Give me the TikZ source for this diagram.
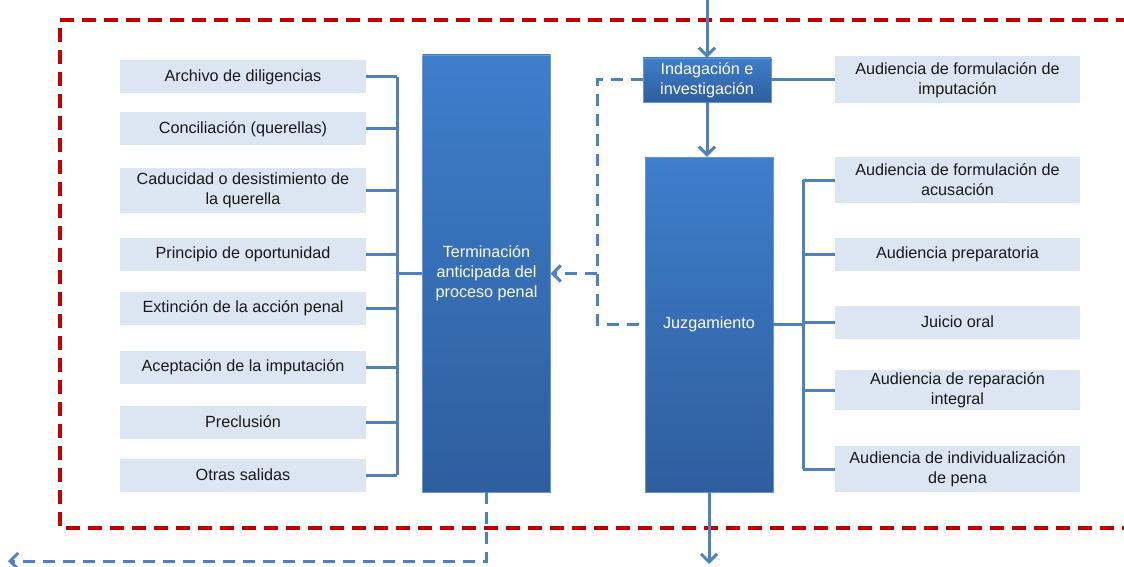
\documentclass[tikz,border=0pt]{standalone}
\usepackage{fontspec}
\setmainfont{Liberation Sans}
\usepackage{tikz}
\usetikzlibrary{positioning, arrows.meta, calc}
\definecolor{boxtop}{RGB}{62,126,203}
\definecolor{boxbot}{RGB}{46,94,158}
\definecolor{lightfill}{RGB}{220,230,242}
\definecolor{linkblue}{RGB}{79,129,189}
\definecolor{framered}{RGB}{192,0,0}
\tikzset{%
  optbox/.style={fill=lightfill, minimum height=33pt, align=center,
    font=\fontsize{16.2}{20}\selectfont, text=black!90, inner sep=2pt},
  leftbox/.style={optbox, minimum width=246pt},
  rightbox/.style={optbox, minimum width=245pt},
  stagebox/.style={top color=boxtop, bottom color=boxbot, draw=boxtop!80!white,
    align=center, text=white, minimum width=128pt,
    font=\fontsize{16.2}{20}\selectfont},
  conn/.style={draw=linkblue, line width=3pt},
  dconn/.style={conn, dash pattern=on 12pt off 8pt},
  >={Straight Barb[length=8pt,width=16pt]}
}

\begin{document}
\begin{tikzpicture}[x=1pt, y=-1pt]
    \useasboundingbox (0,0) rectangle (1124,567);

    % outer frame (runs off the right edge)
    \draw[framered, line width=4pt, dash pattern=on 14pt off 8pt]
      (1130,20) -- (60,20) -- (60,528) -- (1130,528);

    % left column
    \node[leftbox] (arch) at (243,77) {Archivo de diligencias};
    \node[leftbox] (conc) at (243,129) {Conciliación (querellas)};
    \node[leftbox, minimum height=45pt] (cadu) at (243,190) {Caducidad o desistimiento de\\la querella};
    \node[leftbox] (prin) at (243,254) {Principio de oportunidad};
    \node[leftbox] (exti) at (243,308) {Extinción de la acción penal};
    \node[leftbox] (acep) at (243,367) {Aceptación de la imputación};
    \node[leftbox] (prec) at (243,422) {Preclusión};
    \node[leftbox] (otras) at (243,475) {Otras salidas};

    % main stages
    \node[stagebox, minimum height=437pt] (term) at (486.5,273.5) {Terminación\\anticipada del\\proceso penal};
    \node[stagebox, minimum height=44pt] (indag) at (707,80) {Indagación e\\investigación};
    \node[stagebox, minimum height=335pt] (juzg) at (709,324.5) {Juzgamiento};

    % right column
    \node[rightbox, minimum height=47pt] (imput) at (957.5,80) {Audiencia de formulación de\\imputación};
    \node[rightbox, minimum height=46pt] (acus) at (957.5,180) {Audiencia de formulación de\\acusación};
    \node[rightbox] (prep) at (957.5,254) {Audiencia preparatoria};
    \node[rightbox] (juic) at (957.5,322) {Juicio oral};
    \node[rightbox, minimum height=35pt] (repa) at (957.5,390) {Audiencia de reparación\\integral};
    \node[rightbox, minimum height=46pt] (indiv) at (957.5,469) {Audiencia de individualización\\de pena};

    \coordinate (lbus) at (397,0);
    \coordinate (rbus) at (803,0);
    \coordinate (dbus) at (597,0);
    \coordinate (entry) at (707,0);
    \coordinate (exit) at (709,564);
    \coordinate (out) at (8,561);

    % left bracket
    \foreach \n in {arch,conc,cadu,prin,exti,acep,prec,otras}
      \draw[conn] (\n.east) -- (\n.east -| lbus);
    \draw[conn] (arch.east -| lbus) -- (otras.east -| lbus);
    \draw[conn] (term.west -| lbus) -- (term.west);

    % right bracket
    \foreach \n in {acus,prep,juic,repa,indiv}
      \draw[conn] (\n.west) -- (\n.west -| rbus);
    \draw[conn] (acus.west -| rbus) -- (indiv.west -| rbus);
    \draw[conn] (juzg.east) -- (juzg.east -| rbus);
    \draw[conn] (indag.east) -- (imput.west);

    % main flow
    \draw[conn, ->] (entry) -- (indag.north);
    \draw[conn, ->] (indag.south) -- (indag.south |- juzg.north);
    \draw[conn, ->] (juzg.south) -- (exit);

    % early termination
    \draw[dconn] (indag.west) -| (dbus |- juzg.west) -- (juzg.west);
    \draw[dconn, ->] (dbus |- term.east) -- (term.east);
    \draw[dconn, ->] (term.south) |- (out);
\end{tikzpicture}
\end{document}
